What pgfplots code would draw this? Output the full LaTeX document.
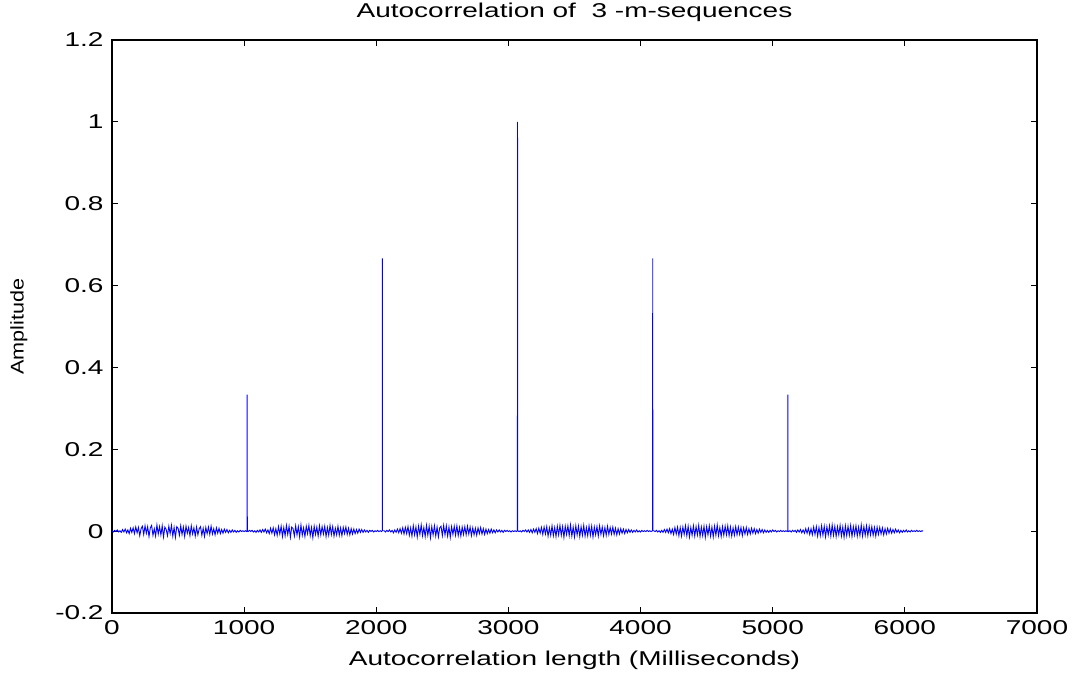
\documentclass[border=0pt]{standalone}
\usepackage{fontspec}
\setmainfont{Liberation Sans}[FakeStretch=1.4]
\newfontfamily\plainsans{Liberation Sans}
\usepackage{pgfplots}
\pgfplotsset{compat=1.18}
\begin{document}
\begin{tikzpicture}
\useasboundingbox (0,0) rectangle (538.5pt,338.5pt);
\begin{axis}[
  at={(56pt,32pt)}, anchor=south west,
  scale only axis, width=462.5pt, height=286.5pt,
  xmin=0, xmax=7000, ymin=-0.2, ymax=1.2,
  clip=false,
  xtick={0,1000,...,7000},
  ytick={-0.2,0,0.2,0.4,0.6,0.8,1,1.2},
  tick align=inside, major tick length=3pt,
  xtick pos=both, ytick pos=both,
  axis line style={line width=0.8pt},
  every tick/.style={black, line width=0.4pt},
  /pgf/number format/assume math mode=true,
  scaled ticks=false,
  xticklabel={\pgfmathprintnumber[fixed,precision=0,1000 sep={}]{\tick}},
  yticklabel={\pgfmathprintnumber[fixed,precision=1]{\tick}},
  tick label style={font=\fontsize{10}{12}\selectfont},
  yticklabel style={xshift=-0.7pt},
  xlabel={Autocorrelation length (Milliseconds)},
  xlabel style={font=\fontsize{10}{12}\selectfont, at={(axis description cs:0.5,0)}, anchor=center, yshift=-23.5pt},
]
\addplot[color={rgb,255:red,0;green,0;blue,255}, line width=0.45pt, mark=none] coordinates {
(0,0.001)(10,-0.002)(20,0.002)(30,-0.001)(40,0.003)(50,-0.002)(60,0.001)(70,-0.003)(80,0.004)(90,-0.002)
(100,0.005)(110,-0.004)(120,0.003)(130,-0.006)(140,0.007)(150,-0.003)(160,0.008)(170,-0.006)(180,0.010)(190,-0.004)
(200,0.009)(210,-0.011)(220,0.006)(230,0.012)(240,-0.008)(250,0.013)(260,-0.005)(270,0.011)(280,-0.013)(290,0.008)
(300,0.014)(310,-0.010)(320,0.006)(330,-0.012)(340,0.015)(350,-0.007)(360,0.011)(370,-0.009)(380,0.013)(390,-0.014)
(400,0.010)(410,0.004)(420,-0.011)(430,0.012)(440,-0.006)(450,0.014)(460,-0.012)(470,0.009)(480,-0.015)(490,0.011)
(500,0.007)(510,-0.010)(520,0.013)(530,-0.008)(540,0.010)(550,-0.013)(560,0.012)(570,-0.005)(580,0.009)(590,-0.011)
(600,0.013)(610,-0.007)(620,0.008)(630,-0.012)(640,0.010)(650,-0.009)(660,0.006)(670,0.011)(680,-0.010)(690,0.007)
(700,-0.013)(710,0.009)(720,-0.006)(730,0.010)(740,-0.008)(750,0.012)(760,-0.007)(770,0.006)(780,-0.009)(790,0.008)
(800,-0.005)(810,0.007)(820,-0.006)(830,0.004)(840,-0.005)(850,0.005)(860,-0.003)(870,0.004)(880,-0.004)(890,0.002)
(900,-0.003)(910,0.003)(920,-0.002)(930,0.002)(940,-0.003)(950,0.001)(960,-0.002)(970,0.002)(980,-0.001)(990,0.001)
(1000,-0.001)(1010,0.001)(1020,-0.001)(1022,0.001)(1023,0.3333)(1024,0.001)
(1030,-0.001)(1040,0.002)(1050,-0.001)(1060,0.002)(1070,-0.002)(1080,0.001)(1090,-0.003)(1100,0.002)(1110,-0.002)(1120,0.003)
(1130,-0.003)(1140,0.004)(1150,-0.002)(1160,0.005)(1170,-0.004)(1180,0.003)(1190,-0.006)(1200,0.007)(1210,-0.005)(1220,0.008)
(1230,-0.009)(1240,0.006)(1250,-0.010)(1260,0.011)(1270,-0.007)(1280,0.012)(1290,-0.013)(1300,0.009)(1310,-0.011)(1320,0.014)
(1330,-0.008)(1340,0.012)(1350,-0.015)(1360,0.010)(1370,0.006)(1380,-0.012)(1390,0.013)(1400,-0.009)(1410,0.011)(1420,-0.014)
(1430,0.015)(1440,-0.010)(1450,0.008)(1460,-0.013)(1470,0.012)(1480,-0.006)(1490,0.014)(1500,-0.011)(1510,0.009)(1520,-0.016)
(1530,0.012)(1540,-0.008)(1550,0.010)(1560,-0.012)(1570,0.013)(1580,-0.009)(1590,0.011)(1600,-0.007)(1610,0.012)(1620,-0.013)
(1630,0.009)(1640,-0.010)(1650,0.014)(1660,-0.008)(1670,0.011)(1680,-0.012)(1690,0.007)(1700,-0.009)(1710,0.012)(1720,-0.010)
(1730,0.008)(1740,-0.011)(1750,0.009)(1760,-0.006)(1770,0.010)(1780,-0.008)(1790,0.007)(1800,-0.009)(1810,0.006)(1820,-0.007)
(1830,0.005)(1840,-0.006)(1850,0.004)(1860,-0.005)(1870,0.005)(1880,-0.003)(1890,0.004)(1900,-0.003)(1910,0.003)(1920,-0.002)
(1930,0.002)(1940,-0.003)(1950,0.002)(1960,-0.001)(1970,0.002)(1980,-0.002)(1990,0.001)(2000,-0.001)(2010,0.002)(2020,-0.001)
(2030,0.001)(2040,-0.001)(2045,0.001)(2046,0.6667)(2047,0.001)
(2060,0.001)(2070,-0.002)(2080,0.002)(2090,-0.001)(2100,0.003)(2110,-0.002)(2120,0.002)(2130,-0.004)(2140,0.003)(2150,-0.003)
(2160,0.005)(2170,-0.004)(2180,0.006)(2190,-0.005)(2200,0.008)(2210,-0.007)(2220,0.009)(2230,-0.006)(2240,0.011)(2250,-0.010)
(2260,0.008)(2270,-0.012)(2280,0.013)(2290,-0.009)(2300,0.010)(2310,-0.014)(2320,0.012)(2330,-0.008)(2340,0.015)(2350,-0.011)
(2360,0.009)(2370,-0.013)(2380,0.014)(2390,-0.010)(2400,0.012)(2410,-0.016)(2420,0.011)(2430,-0.009)(2440,0.013)(2450,-0.012)
(2460,0.010)(2470,-0.014)(2480,0.008)(2490,0.012)(2500,-0.011)(2510,0.014)(2520,-0.009)(2530,0.013)(2540,-0.012)(2550,0.010)
(2560,-0.015)(2570,0.011)(2580,-0.008)(2590,0.012)(2600,-0.010)(2610,0.013)(2620,-0.011)(2630,0.009)(2640,-0.012)(2650,0.010)
(2660,-0.008)(2670,0.011)(2680,-0.009)(2690,0.012)(2700,-0.007)(2710,0.010)(2720,-0.011)(2730,0.008)(2740,-0.009)(2750,0.007)
(2760,-0.010)(2770,0.008)(2780,-0.006)(2790,0.009)(2800,-0.007)(2810,0.006)(2820,-0.008)(2830,0.005)(2840,-0.006)(2850,0.004)
(2860,-0.005)(2870,0.005)(2880,-0.004)(2890,0.003)(2900,-0.004)(2910,0.003)(2920,-0.002)(2930,0.003)(2940,-0.002)(2950,0.002)
(2960,-0.003)(2970,0.002)(2980,-0.001)(2990,0.002)(3000,-0.001)(3010,0.001)(3020,-0.002)(3030,0.001)(3040,-0.001)(3050,0.001)
(3060,-0.001)(3068,0.001)(3069,1.0)(3070,0.001)
(3080,-0.001)(3090,0.001)(3100,-0.002)(3110,0.002)(3120,-0.001)(3130,0.003)(3140,-0.002)(3150,0.003)(3160,-0.003)(3170,0.004)
(3180,-0.004)(3190,0.005)(3200,-0.003)(3210,0.006)(3220,-0.006)(3230,0.007)(3240,-0.005)(3250,0.009)(3260,-0.008)(3270,0.010)
(3280,-0.007)(3290,0.011)(3300,-0.012)(3310,0.008)(3320,-0.010)(3330,0.013)(3340,-0.011)(3350,0.009)(3360,-0.013)(3370,0.012)
(3380,-0.009)(3390,0.014)(3400,-0.010)(3410,0.011)(3420,-0.015)(3430,0.012)(3440,-0.008)(3450,0.013)(3460,-0.011)(3470,0.015)
(3480,-0.012)(3490,0.010)(3500,-0.014)(3510,0.013)(3520,-0.009)(3530,0.012)(3540,-0.013)(3550,0.011)(3560,-0.010)(3570,0.014)
(3580,-0.012)(3590,0.009)(3600,-0.011)(3610,0.013)(3620,-0.010)(3630,0.012)(3640,-0.014)(3650,0.010)(3660,-0.009)(3670,0.011)
(3680,-0.012)(3690,0.013)(3700,-0.008)(3710,0.010)(3720,-0.011)(3730,0.009)(3740,-0.010)(3750,0.012)(3760,-0.008)(3770,0.009)
(3780,-0.007)(3790,0.010)(3800,-0.008)(3810,0.007)(3820,-0.009)(3830,0.006)(3840,-0.007)(3850,0.006)(3860,-0.005)(3870,0.005)
(3880,-0.006)(3890,0.004)(3900,-0.004)(3910,0.004)(3920,-0.003)(3930,0.003)(3940,-0.003)(3950,0.002)(3960,-0.002)(3970,0.003)
(3980,-0.002)(3990,0.001)(4000,-0.002)(4010,0.002)(4020,-0.001)(4030,0.001)(4040,-0.001)(4050,0.002)(4060,-0.001)(4070,0.001)
(4080,-0.001)(4091,0.001)(4092,0.6667)(4093,0.001)
(4100,0.001)(4110,-0.001)(4120,0.002)(4130,-0.002)(4140,0.001)(4150,-0.003)(4160,0.002)(4170,-0.003)(4180,0.004)(4190,-0.003)
(4200,0.005)(4210,-0.004)(4220,0.006)(4230,-0.006)(4240,0.005)(4250,-0.008)(4260,0.009)(4270,-0.007)(4280,0.010)(4290,-0.011)
(4300,0.009)(4310,-0.012)(4320,0.010)(4330,-0.008)(4340,0.013)(4350,-0.011)(4360,0.012)(4370,-0.014)(4380,0.009)(4390,-0.010)
(4400,0.013)(4410,-0.012)(4420,0.011)(4430,-0.009)(4440,0.014)(4450,-0.013)(4460,0.010)(4470,-0.011)(4480,0.012)(4490,-0.015)
(4500,0.011)(4510,-0.009)(4520,0.013)(4530,-0.012)(4540,0.010)(4550,-0.014)(4560,0.012)(4570,-0.010)(4580,0.015)(4590,-0.011)
(4600,0.009)(4610,-0.013)(4620,0.011)(4630,-0.010)(4640,0.012)(4650,-0.009)(4660,0.013)(4670,-0.011)(4680,0.010)(4690,-0.012)
(4700,0.008)(4710,-0.010)(4720,0.011)(4730,-0.009)(4740,0.010)(4750,-0.008)(4760,0.009)(4770,-0.011)(4780,0.008)(4790,-0.007)
(4800,0.009)(4810,-0.008)(4820,0.006)(4830,-0.007)(4840,0.007)(4850,-0.005)(4860,0.006)(4870,-0.006)(4880,0.004)(4890,-0.005)
(4900,0.005)(4910,-0.003)(4920,0.004)(4930,-0.004)(4940,0.003)(4950,-0.003)(4960,0.002)(4970,-0.003)(4980,0.002)(4990,-0.002)
(5000,0.003)(5010,-0.001)(5020,0.002)(5030,-0.002)(5040,0.001)(5050,-0.001)(5060,0.002)(5070,-0.001)(5080,0.001)(5090,-0.001)
(5100,0.001)(5110,-0.001)(5114,0.001)(5115,0.3333)(5116,0.001)
(5120,-0.001)(5130,0.001)(5140,-0.002)(5150,0.002)(5160,-0.001)(5170,0.002)(5180,-0.003)(5190,0.003)(5200,-0.002)(5210,0.004)
(5220,-0.004)(5230,0.003)(5240,-0.005)(5250,0.006)(5260,-0.005)(5270,0.007)(5280,-0.008)(5290,0.006)(5300,-0.009)(5310,0.010)
(5320,-0.008)(5330,0.011)(5340,-0.012)(5350,0.009)(5360,-0.011)(5370,0.013)(5380,-0.010)(5390,0.012)(5400,-0.014)(5410,0.011)
(5420,-0.009)(5430,0.013)(5440,-0.012)(5450,0.015)(5460,-0.010)(5470,0.012)(5480,-0.013)(5490,0.011)(5500,-0.009)(5510,0.014)
(5520,-0.012)(5530,0.010)(5540,-0.015)(5550,0.013)(5560,-0.011)(5570,0.012)(5580,-0.010)(5590,0.014)(5600,-0.013)(5610,0.011)
(5620,-0.009)(5630,0.013)(5640,-0.012)(5650,0.010)(5660,-0.011)(5670,0.015)(5680,-0.012)(5690,0.011)(5700,-0.010)(5710,0.013)
(5720,-0.011)(5730,0.012)(5740,-0.009)(5750,0.011)(5760,-0.010)(5770,0.009)(5780,-0.012)(5790,0.010)(5800,-0.008)(5810,0.009)
(5820,-0.007)(5830,0.008)(5840,-0.009)(5850,0.006)(5860,-0.007)(5870,0.007)(5880,-0.005)(5890,0.006)(5900,-0.005)(5910,0.004)
(5920,-0.004)(5930,0.005)(5940,-0.003)(5950,0.003)(5960,-0.004)(5970,0.002)(5980,-0.003)(5990,0.002)(6000,-0.002)(6010,0.003)
(6020,-0.002)(6030,0.001)(6040,-0.002)(6050,0.002)(6060,-0.001)(6070,0.001)(6080,-0.001)(6090,0.002)(6100,-0.001)(6110,0.001)
(6120,-0.001)(6130,0.001)(6138,0.0)
};
\node[anchor=center, font=\fontsize{10}{12}\selectfont] at (axis description cs:0.5,1) [yshift=14pt] {Autocorrelation of \ 3 -m-sequences};
\node[anchor=center, rotate=90, font=\plainsans\fontsize{10.8}{12}\selectfont] at (axis description cs:0,0.5) [yshift=46.5pt] {\scalebox{1}[0.85]{Amplitude}};
\end{axis}
\end{tikzpicture}
\end{document}
